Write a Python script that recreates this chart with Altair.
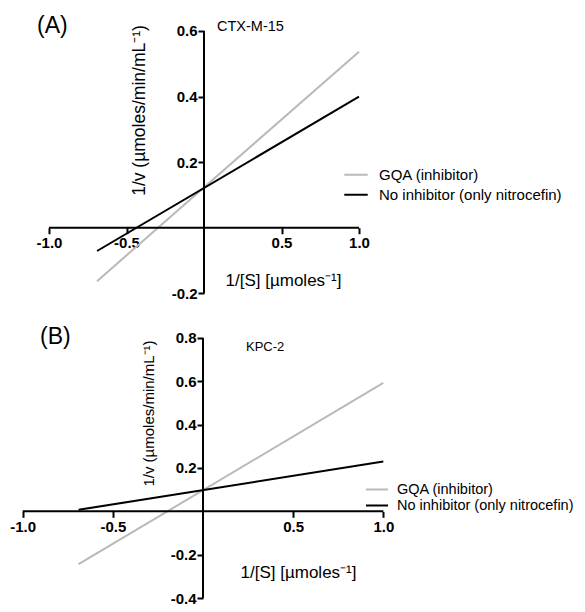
import altair as alt
import pandas as pd

# ---------------- data ----------------
series_names = ["GQA (inhibitor)", "No inhibitor (only nitrocefin)"]
series_colors = ["#b9b9b9", "#000000"]
x_ends = [-0.69, 1.0]
a_gqa = [-0.163, 0.537]
a_none = [-0.071, 0.400]
b_gqa = [-0.244, 0.593]
b_none = [0.007, 0.230]
x_ticks = [-1.0, -0.5, 0.5, 1.0]
a_y_ticks = [-0.2, 0.2, 0.4, 0.6]
b_y_ticks = [-0.4, -0.2, 0.2, 0.4, 0.6, 0.8]
panel_labels = ["(A)", "(B)"]
enzymes = ["CTX-M-15", "KPC-2"]
x_title = "1/[S] [µmoles⁻¹]"
y_title = "1/v (µmoles/min/mL⁻¹)"

FONT = "Liberation Sans"
W = 569
LABEL_EXPR = "(datum.value < 0 ? '-' : '') + format(abs(datum.value), '.1f')"


def panel(gqa, none, y_ticks, xdom, ydom, H, label, enzyme, enz_dx, enz_dy, enz_size,
          label_xy, xtitle_c, ytitle_c, ytitle_size, legend_xy, legend_clip,
          legend_sym, legend_font, legend_off):
    x0px = W * (0 - xdom[0]) / (xdom[1] - xdom[0])
    y0px = H * (ydom[1] - 0) / (ydom[1] - ydom[0])

    df = pd.DataFrame({
        "x": x_ends + x_ends,
        "y": gqa + none,
        "series": [series_names[0]] * 2 + [series_names[1]] * 2,
    })
    xs = alt.Scale(domain=xdom, nice=False, zero=False)
    ys = alt.Scale(domain=ydom, nice=False, zero=False)

    xaxis = alt.Axis(
        values=x_ticks, labelExpr=LABEL_EXPR, offset=-(H - y0px), domain=False, grid=False,
        ticks=True, tickSize=6, tickWidth=2, tickColor="black", tickOpacity=1,
        labelFont=FONT, labelFontSize=15, labelFontWeight="bold", labelColor="black",
        labelPadding=2, labelFlush=False, labelOverlap=False,
        title=x_title, titleFont=FONT, titleFontSize=17, titleFontWeight="normal",
        titleColor="black", titleX=xtitle_c[0], titleY=xtitle_c[1] - y0px,
        titleAlign="center", titleBaseline="middle", titleAngle=0,
    )
    yaxis = alt.Axis(
        values=y_ticks, labelExpr=LABEL_EXPR, offset=-x0px, domain=False, grid=False,
        ticks=True, tickSize=6, tickWidth=2, tickColor="black", tickOpacity=1,
        labelFont=FONT, labelFontSize=15, labelFontWeight="bold", labelColor="black",
        labelPadding=1, labelOverlap=False, labelFlush=False,
        title=y_title, titleFont=FONT, titleFontSize=ytitle_size, titleFontWeight="normal",
        titleColor="black", titleX=ytitle_c[0] - x0px, titleY=ytitle_c[1],
        titleAlign="center", titleBaseline="middle", titleAngle=270,
    )
    X = lambda f: alt.X(f, scale=xs, axis=xaxis)
    Y = lambda f: alt.Y(f, scale=ys, axis=yaxis)

    lines = alt.Chart(df).mark_line(strokeWidth=2).encode(
        x=X("x:Q"),
        y=Y("y:Q"),
        color=alt.Color(
            "series:N",
            scale=alt.Scale(domain=series_names, range=series_colors),
            legend=alt.Legend(
                title=None, orient="none", legendX=legend_xy[0], legendY=legend_xy[1],
                symbolType="stroke", symbolStrokeWidth=2, symbolSize=legend_sym,
                labelFont=FONT, labelFontSize=legend_font, labelColor="black", labelLimit=400,
                rowPadding=0, clipHeight=legend_clip, padding=0, labelOffset=legend_off,
            ),
        ),
        detail="series:N",
    )

    xrule = alt.Chart(pd.DataFrame({"x": [x_ticks[0]], "x2": [x_ticks[-1]], "y": [0.0]})).mark_rule(
        color="black", strokeWidth=2
    ).encode(x=X("x:Q"), x2="x2:Q", y=Y("y:Q"))
    yrule = alt.Chart(pd.DataFrame({"x": [0.0], "y": [y_ticks[0]], "y2": [y_ticks[-1]]})).mark_rule(
        color="black", strokeWidth=2
    ).encode(x=X("x:Q"), y=Y("y:Q"), y2="y2:Q")

    enz = alt.Chart(pd.DataFrame({"x": [0.0], "y": [y_ticks[-1]], "t": [enzyme]})).mark_text(
        align="left", baseline="middle", dx=enz_dx, dy=enz_dy, font=FONT, fontSize=enz_size, color="black"
    ).encode(x=X("x:Q"), y=Y("y:Q"), text="t:N")

    lab = alt.Chart(pd.DataFrame({"x": [xdom[0]], "y": [ydom[1]], "t": [label]})).mark_text(
        align="left", baseline="middle", dx=label_xy[0], dy=label_xy[1], font=FONT, fontSize=23,
        color="black"
    ).encode(x=X("x:Q"), y=Y("y:Q"), text="t:N")

    return alt.layer(lines, xrule, yrule, enz, lab).properties(width=W, height=H)


# Panel A geometry (chart-local pixels)
HA = 307
pa = panel(
    a_gqa, a_none, a_y_ticks,
    xdom=[-1 - 41 / 155, 1 + 218 / 155],
    ydom=[-0.2 - (HA - 285.3) / 327.9, 0.6 + 23 / 327.9],
    H=HA, label=panel_labels[0], enzyme=enzymes[0], enz_dx=13, enz_dy=-4, enz_size=14.5,
    label_xy=(29, 18), xtitle_c=(275, 272), ytitle_c=(131, 102), ytitle_size=17.5,
    legend_xy=(335, 157), legend_clip=19.5, legend_sym=550, legend_font=15, legend_off=10,
)

HB = 289
pb = panel(
    b_gqa, b_none, b_y_ticks,
    xdom=[-1 - 14.7 / 180.3, 1 + (W - 375.3) / 180.3],
    ydom=[-0.4 - (HB - 283) / 216.7, 0.8 + 23 / 216.7],
    H=HB, label=panel_labels[1], enzyme=enzymes[1], enz_dx=43, enz_dy=9, enz_size=13,
    label_xy=(32, 22), xtitle_c=(290, 257), ytitle_c=(140, 98), ytitle_size=15,
    legend_xy=(357, 167), legend_clip=15, legend_sym=484, legend_font=14.5, legend_off=8,
)

chart = alt.vconcat(pa, pb, spacing=0).resolve_scale(
    color="independent"
).resolve_legend(color="independent").properties(padding=0).configure_view(stroke=None)

chart.save("out.html", embed_options={"renderer": "svg", "actions": False})
